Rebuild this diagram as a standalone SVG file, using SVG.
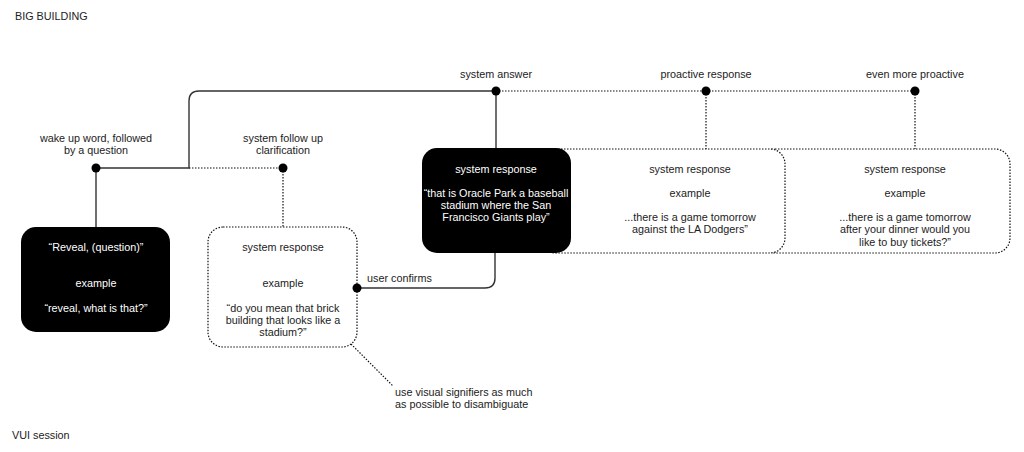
<svg xmlns="http://www.w3.org/2000/svg" width="1024" height="452" viewBox="0 0 1024 452">
<style>
text{font-family:"Liberation Sans",Arial,sans-serif;font-size:10.8px;fill:#222}
.c{text-anchor:middle}
.w{fill:#fff}
.solid{fill:none;stroke:#333;stroke-width:1.4}
.dot{fill:none;stroke:#111;stroke-width:1.2;stroke-dasharray:1.5 1.5}
.dbox{fill:#fff;stroke:#111;stroke-width:1.2;stroke-dasharray:1.5 1.5}
.bbox{fill:#000}
.pt{fill:#000}
</style>
<rect width="1024" height="452" fill="#fff"/>
<text x="15" y="20">BIG BUILDING</text>
<text x="12" y="439">VUI session</text>

<g id="connectors">
  <path class="solid" d="M96,168 H189 V101 Q189,91 199,91 H496"/>
  <path class="dot" d="M189,168 H283"/>
  <path class="dot" d="M496,91 H915"/>
  <path class="solid" d="M96,168 V227"/>
  <path class="dot" d="M283,168 V227"/>
  <path class="solid" d="M496,91 V149"/>
  <path class="dot" d="M706,91 V149"/>
  <path class="dot" d="M915,91 V149"/>
  <path class="solid" d="M357,288 H485 Q495,288 495,278 V253"/>
  <path class="dot" d="M351,344 L393,386"/>
</g>

<g id="box5">
  <rect class="dbox" x="760" y="149" width="250" height="104" rx="15"/>
  <text class="c" x="905" y="173">system response</text>
  <text class="c" x="905" y="197">example</text>
  <text class="c" x="905" y="221">...there is a game tomorrow</text>
  <text class="c" x="905" y="233">after your dinner would you</text>
  <text class="c" x="905" y="246">like to buy tickets?”</text>
</g>
<g id="box4">
  <rect class="dbox" x="540" y="149" width="245" height="104" rx="15"/>
  <text class="c" x="690" y="173">system response</text>
  <text class="c" x="690" y="197">example</text>
  <text class="c" x="690" y="221">...there is a game tomorrow</text>
  <text class="c" x="690" y="233">against the LA Dodgers”</text>
</g>
<g id="box3">
  <rect class="bbox" x="422" y="148" width="149" height="105" rx="15"/>
  <text class="c w" x="496" y="173">system response</text>
  <text class="c w" x="496" y="197">“that is Oracle Park a baseball</text>
  <text class="c w" x="496" y="209">stadium where the San</text>
  <text class="c w" x="496" y="221">Francisco Giants play”</text>
</g>
<g id="box1">
  <rect class="bbox" x="21" y="227" width="149" height="105" rx="15"/>
  <text class="c w" x="96" y="251">“Reveal, (question)”</text>
  <text class="c w" x="96" y="287">example</text>
  <text class="c w" x="96" y="312">“reveal, what is that?”</text>
</g>
<g id="box2">
  <rect class="dbox" x="208" y="227" width="149" height="120" rx="15"/>
  <text class="c" x="283" y="251">system response</text>
  <text class="c" x="283" y="287">example</text>
  <text class="c" x="283" y="312">“do you mean that brick</text>
  <text class="c" x="283" y="324">building that looks like a</text>
  <text class="c" x="283" y="336">stadium?”</text>
</g>

<g id="labels">
  <text class="c" x="96" y="142">wake up word, followed</text>
  <text class="c" x="96" y="154">by a question</text>
  <text class="c" x="283" y="142">system follow up</text>
  <text class="c" x="283" y="154">clarification</text>
  <text class="c" x="496" y="78">system answer</text>
  <text class="c" x="706" y="78">proactive response</text>
  <text class="c" x="915" y="78">even more proactive</text>
  <text x="367" y="282">user confirms</text>
  <text x="395" y="396">use visual signifiers as much</text>
  <text x="395" y="408">as possible to disambiguate</text>
</g>

<g id="points">
  <circle class="pt" cx="96" cy="168" r="4.5"/>
  <circle class="pt" cx="283" cy="168" r="4.5"/>
  <circle class="pt" cx="496" cy="91" r="4.5"/>
  <circle class="pt" cx="706" cy="91" r="4.5"/>
  <circle class="pt" cx="915" cy="91" r="4.5"/>
  <circle class="pt" cx="357" cy="288" r="4.5"/>
</g>
</svg>
